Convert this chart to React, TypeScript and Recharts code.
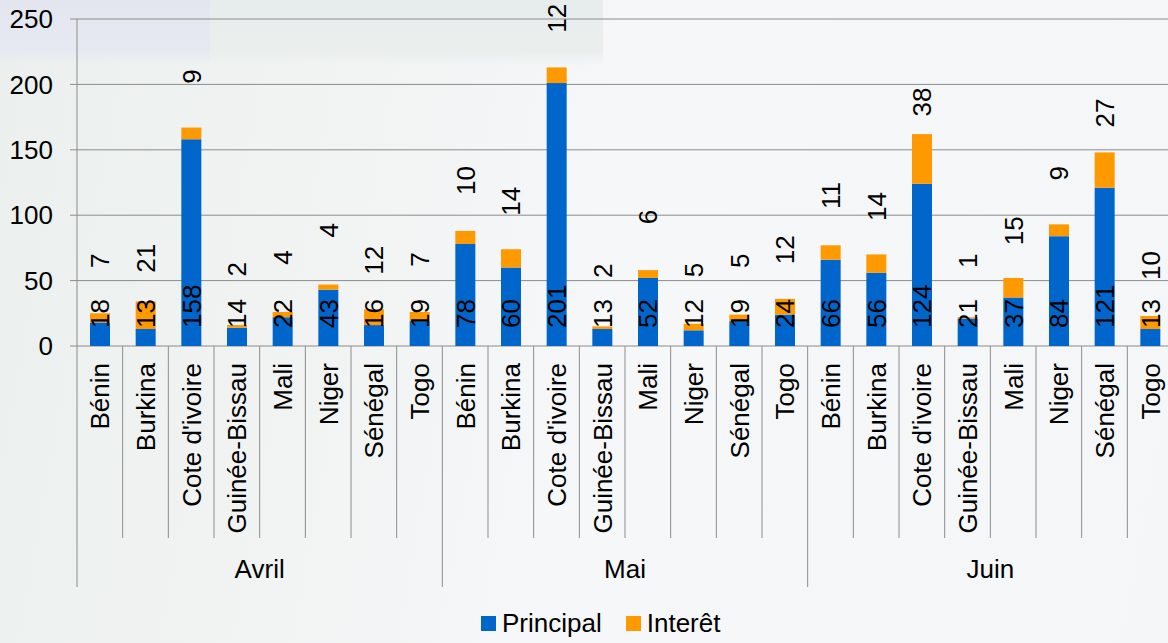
import React from 'react';
import { BarChart, Bar, XAxis, YAxis, CartesianGrid, LabelList, Legend } from 'recharts';

const countries = ['Bénin', 'Burkina', "Cote d'ivoire", 'Guinée-Bissau', 'Mali', 'Niger', 'Sénégal', 'Togo'];
const months = ['Avril', 'Mai', 'Juin'];
const principalAvril = [18, 13, 158, 14, 22, 43, 16, 19];
const interetAvril = [7, 21, 9, 2, 4, 4, 12, 7];
const principalMai = [78, 60, 201, 13, 52, 12, 19, 24];
const interetMai = [10, 14, 12, 2, 6, 5, 5, 12];
const principalJuin = [66, 56, 124, 21, 37, 84, 121, 13];
const interetJuin = [11, 14, 38, 1, 15, 9, 27, 10];
const yTicks = [0, 50, 100, 150, 200, 250];
const seriesNames = ['Principal', 'Interêt'];

const principalByMonth = [principalAvril, principalMai, principalJuin];
const interetByMonth = [interetAvril, interetMai, interetJuin];

const data = months.flatMap((m, mi) =>
  countries.map((c, ci) => ({
    key: `${m}-${c}`,
    country: c,
    month: m,
    ci,
    principal: principalByMonth[mi][ci],
    interet: interetByMonth[mi][ci],
  }))
);

const FONT = '"Liberation Sans", Arial, Helvetica, sans-serif';
const BLUE = '#0066CC';
const ORANGE = '#FF9900';
const GRID = '#8c8c8c';
const CHART_W = 1173;
const CHART_H = 643;
const LEFT = 77;
const CAT_W = (CHART_W - LEFT) / data.length;

const CategoryTick = (props: any) => {
  const { x, y, index } = props;
  const d = data[index];
  if (!d) return null;
  const ty = y + 17;
  const isGroupStart = d.ci === 0;
  return (
    <g>
      <line x1={x - CAT_W / 2} x2={x - CAT_W / 2} y1={y} y2={isGroupStart ? y + 241 : y + 192} stroke={GRID} strokeWidth={1} />
      {index === data.length - 1 && (
        <line x1={x + CAT_W / 2} x2={x + CAT_W / 2} y1={y} y2={y + 241} stroke={GRID} strokeWidth={1} />
      )}
      <text
        x={x}
        y={ty}
        dy="0.36em"
        textAnchor="end"
        transform={`rotate(-90, ${x}, ${ty})`}
        fontSize={26}
        fontFamily={FONT}
        fill="#000"
      >
        {d.country}
      </text>
      {d.ci === 3 && (
        <text x={x + CAT_W / 2} y={y + 232} textAnchor="middle" fontSize={26} fontFamily={FONT} fill="#000">
          {d.month}
        </text>
      )}
    </g>
  );
};

const PrincipalLabel = (props: any) => {
  const { x, y, width, height, value } = props;
  const cx = x + width / 2;
  const ty = y + height - 18;
  return (
    <text x={cx} y={ty} dy="0.36em" textAnchor="start" transform={`rotate(-90, ${cx}, ${ty})`} fontSize={26} fontFamily={FONT} fill="#000">
      {value}
    </text>
  );
};

const InteretLabel = (props: any) => {
  const { x, y, width, height, value } = props;
  const cx = x + width / 2;
  const ty = y + height / 2 - 57;
  return (
    <text x={cx} y={ty} dy="0.36em" textAnchor="middle" transform={`rotate(-90, ${cx}, ${ty})`} fontSize={26} fontFamily={FONT} fill="#000">
      {value}
    </text>
  );
};

const LegendContent = () => {
  const colors = [BLUE, ORANGE];
  return (
    <div style={{ display: 'flex', alignItems: 'center', height: 30, paddingLeft: 481, fontFamily: FONT, fontSize: 26, color: '#000' }}>
      {seriesNames.map((n, i) => (
        <div key={n} style={{ display: 'flex', alignItems: 'center', marginRight: 24 }}>
          <div style={{ width: 15, height: 15, background: colors[i], marginRight: 6 }} />
          <span style={{ lineHeight: '30px' }}>{n}</span>
        </div>
      ))}
    </div>
  );
};

export default function App() {
  return (
    <div
      style={{
        position: 'absolute',
        left: 0,
        top: 0,
        width: 1168,
        height: 643,
        overflow: 'hidden',
        background: [
          'linear-gradient(to bottom, #e3e6ef 0px, #e6e9f1 50px, rgba(255,255,255,0) 64px) 0 0 / 210px 100% no-repeat',
          'linear-gradient(to bottom, #e7edec 0px, #eaefee 52px, rgba(255,255,255,0) 66px) 210px 0 / 393px 100% no-repeat',
          'linear-gradient(100deg, #ebf0ee 0%, #f0f3f2 25%, #f5f7f8 50%, #f4f6f8 100%)',
        ].join(', '),
      }}
    >
      <BarChart
        width={CHART_W}
        height={CHART_H}
        data={data}
        margin={{ top: 19, right: 0, bottom: 5, left: 0 }}
        barSize={20}
      >
        <CartesianGrid vertical={false} stroke={GRID} strokeWidth={1} />
        <XAxis
          dataKey="key"
          interval={0}
          tickLine={false}
          tickSize={0}
          tickMargin={0}
          axisLine={false}
          height={262}
          tick={<CategoryTick />}
        />
        <YAxis
          domain={[0, 250]}
          ticks={yTicks}
          width={77}
          tickSize={7}
          tickMargin={17}
          axisLine={{ stroke: GRID }}
          tickLine={{ stroke: GRID }}
          tick={{ fontSize: 26, fill: '#000', fontFamily: FONT }}
          allowDataOverflow
        />
        <Legend verticalAlign="bottom" content={<LegendContent />} />
        <Bar dataKey="principal" name={seriesNames[0]} stackId="a" fill={BLUE} isAnimationActive={false}>
          <LabelList dataKey="principal" content={<PrincipalLabel />} />
        </Bar>
        <Bar dataKey="interet" name={seriesNames[1]} stackId="a" fill={ORANGE} isAnimationActive={false}>
          <LabelList dataKey="interet" content={<InteretLabel />} />
        </Bar>
      </BarChart>
    </div>
  );
}
